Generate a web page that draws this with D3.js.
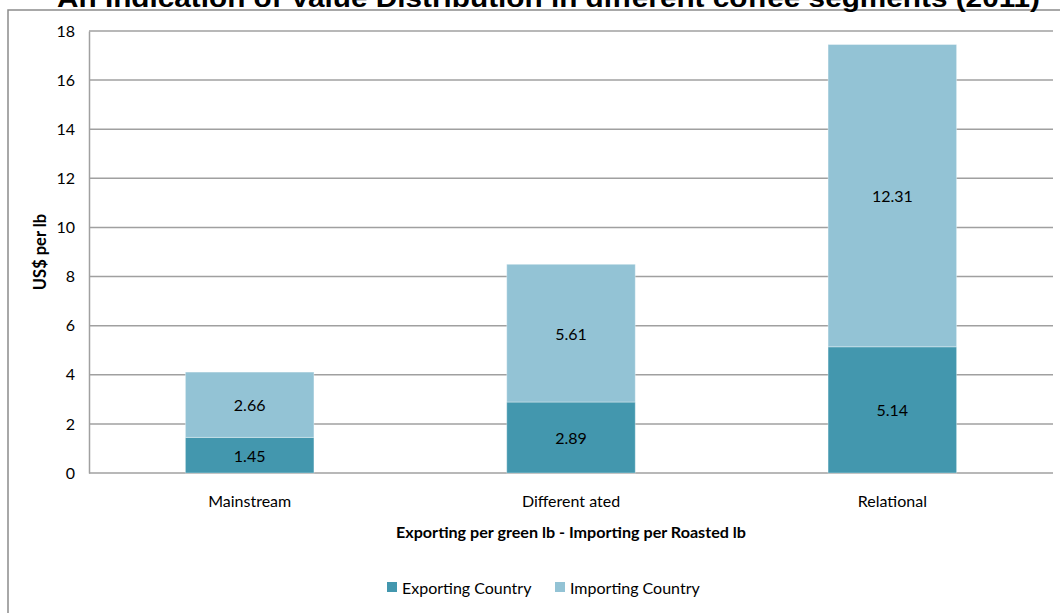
<!DOCTYPE html>
<html>
<head>
<meta charset="utf-8">
<script src="https://cdn.jsdelivr.net/npm/d3@7"></script>
<style>
  html, body { margin: 0; padding: 0; background: #fff; }
  svg { display: block; }
</style>
</head>
<body>
<svg id="chart" width="1060" height="613"></svg>
<script>
// Value distribution per segment, US$ per lb
const categories = ["Mainstream", "Different ated", "Relational"];
const exporting = [1.45, 2.89, 5.14];
const importing = [2.66, 5.61, 12.31];
const seriesNames = ["Exporting Country", "Importing Country"];
const yTicks = [0, 2, 4, 6, 8, 10, 12, 14, 16, 18];

const colors = ["#4397ae", "#93c3d5"];
const labelFont = "Lato, 'Open Sans', sans-serif";

const svg = d3.select("#chart");
const W = 1060, H = 613;
const margin = { left: 89, right: 1060 - 1053, top: 31, bottom: 613 - 473 };

// Outer frame (top and left edges visible)
svg.append("path")
  .attr("d", `M8,${H} L8,10 L${W},10`)
  .attr("fill", "none")
  .attr("stroke", "#8c8c8c")
  .attr("stroke-width", 1.5);

// Title, sitting above the frame's top edge
svg.append("text")
  .attr("x", 57).attr("y", 7)
  .attr("text-anchor", "start")
  .attr("font-family", "'Liberation Sans', Arial, sans-serif")
  .attr("font-weight", "bold")
  .attr("font-size", 25)
  .attr("textLength", 983)
  .attr("lengthAdjust", "spacingAndGlyphs")
  .attr("fill", "#000")
  .text("An Indication of Value Distribution in different coffee segments (2011)");

const x = d3.scaleBand()
  .domain(categories)
  .range([margin.left, W - margin.right])
  .paddingInner(0.6)
  .paddingOuter(0.3);

const y = d3.scaleLinear()
  .domain([0, 18])
  .range([H - margin.bottom, margin.top]);

// Gridlines
svg.append("g")
  .selectAll("line")
  .data(yTicks)
  .join("line")
  .attr("x1", margin.left).attr("x2", W - margin.right)
  .attr("y1", d => y(d)).attr("y2", d => y(d))
  .attr("stroke", "#a0a0a0")
  .attr("stroke-width", 1.5);

// Y axis
const yAxis = svg.append("g")
  .attr("transform", `translate(${margin.left},0)`)
  .call(d3.axisLeft(y).tickValues(yTicks).tickSize(0).tickPadding(14).tickFormat(d3.format("d")));
yAxis.select(".domain").attr("stroke", "#a0a0a0").attr("stroke-width", 1.5);
yAxis.selectAll("text")
  .attr("font-family", labelFont)
  .attr("font-size", 16)
  .attr("fill", "#000");

// X axis (category labels)
const xAxis = svg.append("g")
  .attr("transform", `translate(0,${y(0)})`)
  .call(d3.axisBottom(x).tickSize(0).tickPadding(23));
xAxis.select(".domain").remove();
xAxis.selectAll("text")
  .attr("font-family", labelFont)
  .attr("font-size", 16)
  .attr("fill", "#000");

// Stacked bars
const rows = categories.map((c, i) => ({ cat: c, exp: exporting[i], imp: importing[i] }));
const stack = d3.stack().keys(["exp", "imp"])(rows);

const layers = svg.append("g")
  .selectAll("g")
  .data(stack)
  .join("g")
  .attr("fill", (d, i) => colors[i]);

layers.selectAll("rect")
  .data(d => d)
  .join("rect")
  .attr("x", d => x(d.data.cat))
  .attr("width", x.bandwidth())
  .attr("y", d => y(d[1]))
  .attr("height", d => y(d[0]) - y(d[1]))
  .attr("stroke", "rgba(255,255,255,0.35)")
  .attr("stroke-width", 1);

// Segment value labels
layers.selectAll("text")
  .data(d => d.map(v => ({ v, key: d.key })))
  .join("text")
  .attr("x", d => x(d.v.data.cat) + x.bandwidth() / 2)
  .attr("y", d => (y(d.v[0]) + y(d.v[1])) / 2)
  .attr("dy", "0.4em")
  .attr("text-anchor", "middle")
  .attr("font-family", labelFont)
  .attr("font-size", 16)
  .attr("fill", "#000")
  .text(d => d3.format(".2f")(d.v.data[d.key]));

// Axis titles
svg.append("text")
  .attr("transform", `translate(46,${(y(0) + y(18)) / 2}) rotate(-90)`)
  .attr("text-anchor", "middle")
  .attr("font-family", labelFont)
  .attr("font-weight", "bold")
  .attr("font-size", 16.5)
  .attr("fill", "#000")
  .text("US$ per lb");

svg.append("text")
  .attr("x", 571).attr("y", 538)
  .attr("text-anchor", "middle")
  .attr("font-family", labelFont)
  .attr("font-weight", "bold")
  .attr("font-size", 16)
  .attr("textLength", 350)
  .attr("lengthAdjust", "spacingAndGlyphs")
  .attr("fill", "#000")
  .text("Exporting per green lb - Importing per Roasted lb");

// Legend
const legendX = [387, 555];
const legend = svg.append("g")
  .selectAll("g")
  .data(seriesNames)
  .join("g")
  .attr("transform", (d, i) => `translate(${legendX[i]},582)`);
legend.append("rect")
  .attr("width", 10).attr("height", 10)
  .attr("fill", (d, i) => colors[i]);
legend.append("text")
  .attr("x", 15).attr("y", 12)
  .attr("font-family", labelFont)
  .attr("font-size", 16)
  .attr("fill", "#000")
  .text(d => d);
</script>
</body>
</html>
